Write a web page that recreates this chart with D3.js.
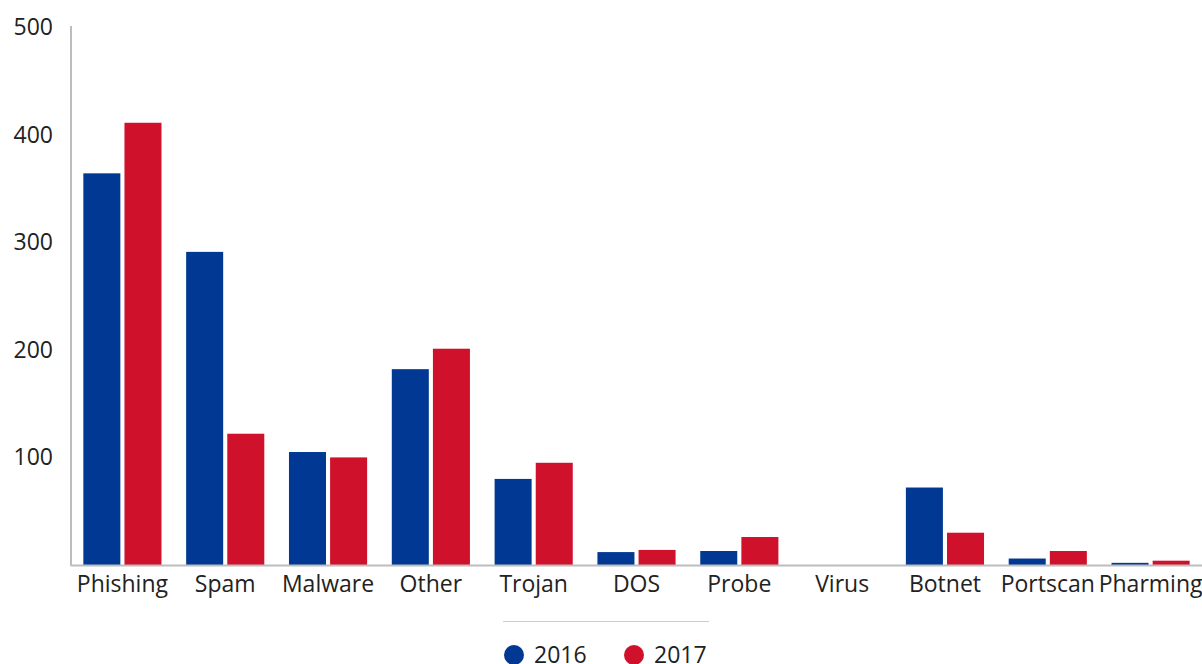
<!DOCTYPE html>
<html>
<head>
<meta charset="utf-8">
<script src="https://cdn.jsdelivr.net/npm/d3@7"></script>
<style>
  body { margin: 0; background: #fff; }
  svg { display: block; }
  text { font-family: "Open Sans", Lato, sans-serif; fill: #222; }
</style>
</head>
<body>
<svg id="chart" width="1202" height="664"></svg>
<script>
var categories = ["Phishing", "Spam", "Malware", "Other", "Trojan", "DOS", "Probe", "Virus", "Botnet", "Portscan", "Pharming"];
var years = ["2016", "2017"];
var values2016 = [364, 291, 105, 182, 80, 12, 13, 0, 72, 6, 2];
var values2017 = [411, 122, 100, 201, 95, 14, 26, 0, 30, 13, 4];
var yTicks = [100, 200, 300, 400, 500];
var colors = ["#003893", "#d0112b"];

var svg = d3.select("#chart"),
    plotLeft = 71, plotRight = 1202, plotTop = 27, plotBottom = 565;

var data = categories.map(function(c, i) {
  return { name: c, vals: [values2016[i], values2017[i]] };
});

var x = d3.scaleBand().domain(categories).range([plotLeft, plotRight]).paddingInner(0.24).paddingOuter(0.12);
var x1 = d3.scaleBand().domain(years).range([0, x.bandwidth()]).paddingInner(0.1);
var y = d3.scaleLinear().domain([0, 500]).range([plotBottom, plotTop]);

// bars
var groups = svg.append("g").selectAll("g")
  .data(data).enter().append("g")
  .attr("transform", function(d) { return "translate(" + x(d.name) + ",0)"; });

groups.selectAll("rect")
  .data(function(d) { return d.vals.map(function(v, i) { return { year: years[i], v: v, i: i }; }); })
  .enter().append("rect")
  .attr("x", function(d) { return x1(d.year); })
  .attr("width", x1.bandwidth())
  .attr("y", function(d) { return y(d.v); })
  .attr("height", function(d) { return plotBottom - y(d.v); })
  .attr("fill", function(d) { return colors[d.i]; });

// axes lines
svg.append("line")
  .attr("x1", plotLeft).attr("x2", plotLeft).attr("y1", plotTop - 1).attr("y2", plotBottom + 1)
  .attr("stroke", "#bdbdbd").attr("stroke-width", 2);
svg.append("line")
  .attr("x1", plotLeft).attr("x2", plotRight).attr("y1", plotBottom + 0.5).attr("y2", plotBottom + 0.5)
  .attr("stroke", "#bdbdbd").attr("stroke-width", 2);

// y tick labels
svg.append("g").selectAll("text")
  .data(yTicks).enter().append("text")
  .attr("x", 53).attr("y", function(d) { return y(d); })
  .attr("dy", "0.35em")
  .attr("text-anchor", "end")
  .attr("font-size", 23)
  .text(function(d) { return d; });

// x labels
svg.append("g").selectAll("text")
  .data(categories).enter().append("text")
  .attr("x", function(d) { return x(d) + x.bandwidth() / 2; })
  .attr("y", 584)
  .attr("dy", "0.35em")
  .attr("text-anchor", "middle")
  .attr("font-size", 23)
  .text(function(d) { return d; });

// legend
svg.append("line")
  .attr("x1", 503).attr("x2", 709).attr("y1", 621.5).attr("y2", 621.5)
  .attr("stroke", "#c8cccc").attr("stroke-width", 1);

var legend = svg.append("g").selectAll("g")
  .data(years).enter().append("g")
  .attr("transform", function(d, i) { return "translate(" + (514 + i * 120) + ",655)"; });
legend.append("circle").attr("r", 10).attr("fill", function(d, i) { return colors[i]; });
legend.append("text").attr("x", 20).attr("dy", "0.35em").attr("font-size", 23).text(function(d) { return d; });
</script>
</body>
</html>
